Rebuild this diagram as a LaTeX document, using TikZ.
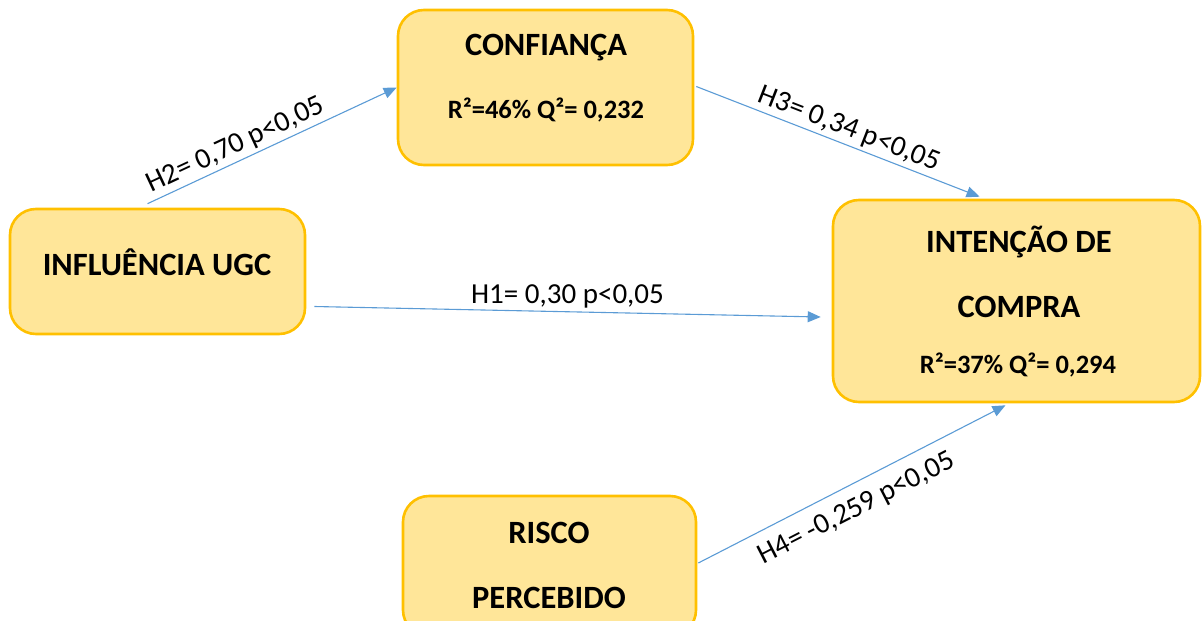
\documentclass[tikz,border=0pt]{standalone}
\usepackage{fontspec}
\setmainfont{Carlito}
\usetikzlibrary{arrows.meta,calc}
\definecolor{boxfill}{HTML}{FFE699}
\definecolor{boxline}{HTML}{FFC000}
\definecolor{arrowblue}{HTML}{5B9BD5}
\tikzset{
  construct/.style={draw=boxline, fill=boxfill, line width=2.6pt, rounded corners=26pt, inner sep=0pt},
  title/.style={font=\fontsize{32.5}{32.5}\selectfont\bfseries, inner sep=0pt},
  stat/.style={font=\fontsize{26.5}{26.5}\selectfont\bfseries, inner sep=0pt},
  path/.style={draw=arrowblue, line width=1.1pt, -{Triangle[length=13pt,width=11pt]}},
  lab/.style={font=\fontsize{29}{29}\selectfont, text=black, inner sep=3pt}
}
\begin{document}
\begin{tikzpicture}[x=1pt,y=-1pt]
\useasboundingbox (0,0) rectangle (1202,621);
% boxes
\node[construct, minimum width=295pt, minimum height=155pt] (conf) at (545.5,87.5) {};
\node[construct, minimum width=295pt, minimum height=125pt] (infl) at (157.5,271.5) {};
\node[construct, minimum width=367pt, minimum height=202pt] (int) at (1016.5,301) {};
\node[construct, minimum width=293pt, minimum height=140pt] (risk) at (549.5,566) {};
% texts
\node[title] (confT) at (546,48) {CONFIANÇA};
\node[stat] (confS) at (546,110) {R²=46\% Q²= 0,232};
\node[title] (inflT) at (157,262) {INFLUÊNCIA UGC};
\node[title] (intT1) at (1019,242) {INTENÇÃO DE};
\node[title] (intT2) at (1019,307) {COMPRA};
\node[stat] (intS) at (1018,365) {R²=37\% Q²= 0,294};
\node[title] (riskT1) at (549,533) {RISCO};
\node[title] (riskT2) at (549,598) {PERCEBIDO};
% connectors
\draw[path] ($(infl.north)+(-10,-4)$) -- node[lab, sloped, above, pos=0.38] {H2= 0,70 p<0,05} ($(conf.west)+(0,0)$);
\draw[path] ($(conf.east)+(2,-1)$) -- node[lab, sloped, above, pos=0.52] {H3= 0,34 p<0,05} ($(int.north)+(-37,-2)$);
\draw[path] ($(infl.east)+(8,35)$) -- node[lab, above, pos=0.5] {H1= 0,30 p<0,05} ($(int.west)+(-11,16)$);
\draw[path] ($(risk.east)+(1,-3)$) -- node[lab, sloped, below=9pt, pos=0.48] {H4= -0,259 p<0,05} ($(int.south)+(-11,2)$);
\end{tikzpicture}
\end{document}
